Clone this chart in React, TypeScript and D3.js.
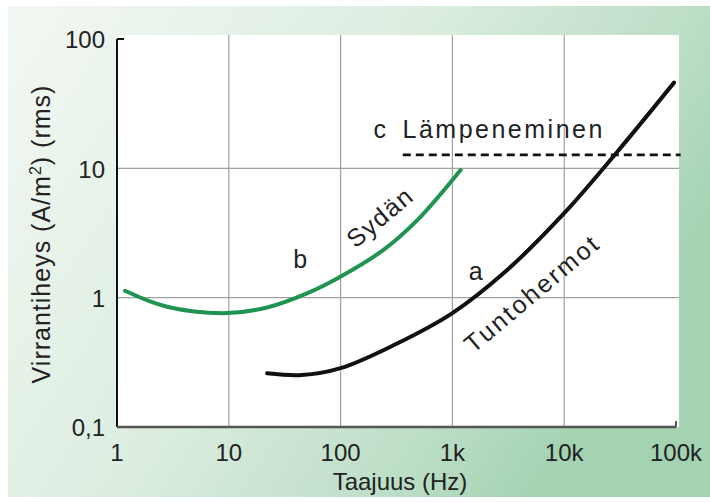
import React from 'react';
import * as d3 from 'd3';

// ---- data ----
const X_TICKS = [1, 10, 100, 1000, 10000, 100000];
const X_TICK_LABELS = ['1', '10', '100', '1k', '10k', '100k'];
const Y_TICKS = [0.1, 1, 10, 100];
const Y_TICK_LABELS = ['0,1', '1', '10', '100'];

// a: Tuntohermot (sensory nerves)
const FREQ_A = [22, 45, 100, 300, 1000, 3000, 10000, 30000, 96000];
const VAL_A = [0.26, 0.252, 0.285, 0.43, 0.76, 1.6, 4.5, 13.5, 46];

// b: Sydän (heart)
const FREQ_B = [1.18, 2.8, 9.7, 22, 50, 95, 242, 488, 1184];
const VAL_B = [1.13, 0.85, 0.76, 0.84, 1.08, 1.42, 2.34, 3.99, 9.7];

// c: Lämpeneminen (heating) threshold
const FREQ_C = [360, 110000];
const VAL_C = [12.7, 12.7];

const W = 710;
const H = 502;
const FONT = '"Liberation Sans", Arial, Helvetica, sans-serif';

export default function App() {
  const x = d3.scaleLog().domain([1, 100000]).range([117, 676]);
  const y = d3.scaleLog().domain([0.1, 100]).range([427, 39]);

  const plotLeft = 117;
  const plotRight = 679;
  const plotTop = 35;
  const plotBottom = 427;

  const line = d3
    .line<[number, number]>()
    .x((d) => x(d[0]))
    .y((d) => y(d[1]))
    .curve(d3.curveCatmullRom.alpha(0.5));

  const lineStraight = d3
    .line<[number, number]>()
    .x((d) => x(d[0]))
    .y((d) => y(d[1]));

  const dataA = FREQ_A.map((f, i) => [f, VAL_A[i]] as [number, number]);
  const dataB = FREQ_B.map((f, i) => [f, VAL_B[i]] as [number, number]);
  const dataC = FREQ_C.map((f, i) => [f, VAL_C[i]] as [number, number]);

  const textColor = '#222';

  return (
    <svg
      width={W}
      height={H}
      style={{ position: 'absolute', left: 0, top: 0, display: 'block' }}
      fontFamily={FONT}
    >
      <defs>
        <linearGradient id="bg" x1="0" y1="0" x2="1" y2="0.45">
          <stop offset="0" stopColor="#f3f8f3" />
          <stop offset="0.5" stopColor="#dcede0" />
          <stop offset="0.85" stopColor="#b9dcc4" />
          <stop offset="1" stopColor="#a3d3b3" />
        </linearGradient>
      </defs>
      <rect x={0} y={0} width={W} height={H} fill="#ffffff" />
      <rect x={8} y={6} width={W - 8} height={491} fill="url(#bg)" />
      {/* plot area */}
      <rect
        x={plotLeft}
        y={plotTop}
        width={plotRight - plotLeft}
        height={plotBottom - plotTop}
        fill="#ffffff"
      />
      {/* vertical grid */}
      {X_TICKS.slice(1, -1).map((t) => (
        <line
          key={'gx' + t}
          x1={x(t)}
          x2={x(t)}
          y1={plotTop}
          y2={plotBottom}
          stroke="#a0a0a0"
          strokeWidth={1.2}
        />
      ))}
      {/* horizontal grid */}
      {Y_TICKS.slice(1, -1).map((t) => (
        <line
          key={'gy' + t}
          x1={plotLeft}
          x2={plotRight}
          y1={y(t)}
          y2={y(t)}
          stroke="#a0a0a0"
          strokeWidth={1.2}
        />
      ))}
      {/* axes */}
      <line x1={plotLeft} x2={plotLeft} y1={y(100)} y2={plotBottom} stroke="#111" strokeWidth={2} />
      <line x1={plotLeft} x2={plotLeft + 7} y1={y(100)} y2={y(100)} stroke="#111" strokeWidth={2} />
      <line x1={plotLeft} x2={x(100000)} y1={plotBottom} y2={plotBottom} stroke="#555" strokeWidth={2.5} />
      <line x1={x(100000)} x2={x(100000)} y1={plotBottom} y2={plotBottom - 6} stroke="#555" strokeWidth={2} />

      {/* curves */}
      <path d={lineStraight(dataC) || ''} fill="none" stroke="#111" strokeWidth={2.6} strokeDasharray="8,5" />
      <path d={line(dataB) || ''} fill="none" stroke="#1f9450" strokeWidth={4} strokeLinecap="round" />
      <path d={line(dataA) || ''} fill="none" stroke="#111" strokeWidth={4} strokeLinecap="round" />

      {/* tick labels */}
      {Y_TICKS.map((t, i) => (
        <text
          key={'yl' + t}
          x={105}
          y={y(t) + 3}
          textAnchor="end"
          dominantBaseline="middle"
          fontSize={24}
          fill={textColor}
        >
          {Y_TICK_LABELS[i]}
        </text>
      ))}
      {X_TICKS.map((t, i) => (
        <text key={'xl' + t} x={x(t)} y={461} textAnchor="middle" fontSize={24} fill={textColor}>
          {X_TICK_LABELS[i]}
        </text>
      ))}

      {/* axis titles */}
      <text x={400} y={490} textAnchor="middle" fontSize={24} fill={textColor}>
        Taajuus (Hz)
      </text>
      <text
        transform={`translate(50, 234) rotate(-90)`}
        textAnchor="middle"
        fontSize={25}
        letterSpacing={1}
        fill={textColor}
      >
        Virrantiheys (A/m
        <tspan dy={-9} fontSize={16}>2</tspan>
        <tspan dy={9}>) (rms)</tspan>
      </text>

      {/* annotations */}
      <text x={x(43.6)} y={y(1.7)} textAnchor="middle" fontSize={25} fill={textColor}>
        b
      </text>
      <text x={x(1614)} y={y(1.37)} textAnchor="middle" fontSize={25} fill={textColor}>
        a
      </text>
      <text x={x(197)} y={y(17.2)} fontSize={25} fill={textColor}>
        c
      </text>
      <text x={x(358)} y={y(17.2)} fontSize={25} letterSpacing={2.5} fill={textColor}>
        Lämpeneminen
      </text>
      <text
        transform={`translate(${x(252)}, ${y(3.72)}) rotate(-40)`}
        textAnchor="middle"
        fontSize={25}
        letterSpacing={1.5}
        fill={textColor}
      >
        Sydän
      </text>
      <text
        transform={`translate(${x(5800)}, ${y(0.96)}) rotate(-40)`}
        textAnchor="middle"
        fontSize={25}
        letterSpacing={2.5}
        fill={textColor}
      >
        Tuntohermot
      </text>
    </svg>
  );
}
